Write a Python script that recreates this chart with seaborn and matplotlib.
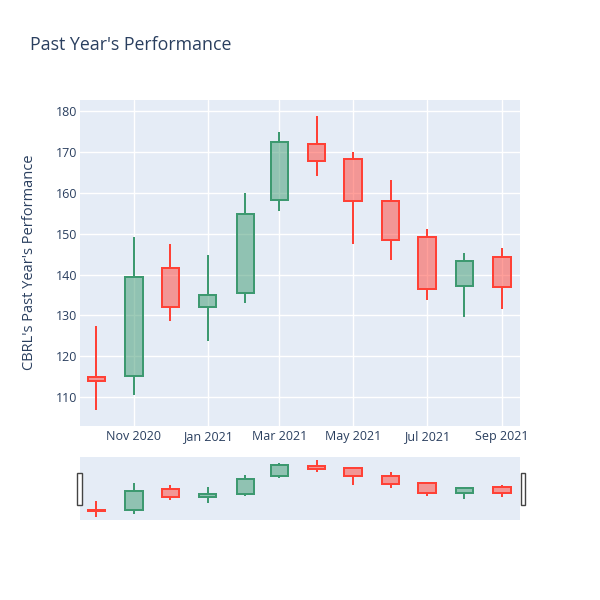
import matplotlib
matplotlib.use("Agg")
import matplotlib.pyplot as plt
import matplotlib.dates as mdates
import matplotlib.patches as mpatches
import seaborn as sns
import pandas as pd

# ---- data ----
dates = ["2020-10-01", "2020-11-01", "2020-12-01", "2021-01-01", "2021-02-01", "2021-03-01",
         "2021-04-01", "2021-05-01", "2021-06-01", "2021-07-01", "2021-08-01", "2021-09-01"]
opens = [114.9, 115.2, 141.7, 132.0, 135.4, 158.2, 171.9, 168.4, 158.1, 149.2, 137.3, 144.2]
highs = [127.3, 149.1, 147.5, 144.9, 160.1, 174.9, 178.8, 170.0, 163.3, 151.1, 145.2, 146.6]
lows = [106.9, 110.5, 128.5, 123.7, 133.1, 155.6, 164.1, 147.5, 143.5, 133.7, 129.7, 131.6]
closes = [113.9, 139.4, 132.0, 135.1, 154.8, 172.6, 167.8, 158.0, 148.6, 136.4, 143.3, 136.9]
x_ticks = ["2020-11-01", "2021-01-01", "2021-03-01", "2021-05-01", "2021-07-01", "2021-09-01"]
y_ticks = [110, 120, 130, 140, 150, 160, 170, 180]

df = pd.DataFrame({"date": pd.to_datetime(dates), "open": opens, "high": highs,
                   "low": lows, "close": closes})

INC = "#3D9970"
DEC = "#FF4136"
BG = "#E5ECF6"
TXT = "#2a3f5f"

sns.set_theme(style="darkgrid", rc={"axes.facecolor": BG, "grid.color": "white",
                                    "figure.facecolor": "white"})
plt.rcParams["font.family"] = ["Open Sans", "DejaVu Sans"]

fig = plt.figure(figsize=(6, 6), dpi=100)
ax = fig.add_axes([80 / 600, 1 - 425.5 / 600, 440 / 600, 325.5 / 600])
axs = fig.add_axes([80 / 600, 1 - 519.7 / 600, 440 / 600, 62.7 / 600])

LW = 1.44
WIDTH = 14.3  # days


def draw(axis, lw):
    for _, r in df.iterrows():
        col = INC if r["close"] >= r["open"] else DEC
        lo_b = min(r["open"], r["close"])
        hi_b = max(r["open"], r["close"])
        axis.vlines(r["date"], r["low"], lo_b, color=col, lw=lw, zorder=3)
        axis.vlines(r["date"], hi_b, r["high"], color=col, lw=lw, zorder=3)
        axis.bar(r["date"], hi_b - lo_b, bottom=lo_b, width=WIDTH,
                 facecolor=matplotlib.colors.to_rgba(col, 0.5), edgecolor=col,
                 linewidth=lw, zorder=3)


draw(ax, LW)
draw(axs, LW)

x0 = pd.Timestamp("2020-11-01") - pd.Timedelta(days=44.6)
x1 = pd.Timestamp("2021-09-01") + pd.Timedelta(days=14.9)
for a in (ax, axs):
    a.set_xlim(x0, x1)
    a.set_ylim(103.0, 182.8)
    for s in a.spines.values():
        s.set_visible(False)

ax.set_xticks(pd.to_datetime(x_ticks))
ax.xaxis.set_major_formatter(mdates.DateFormatter("%b %Y"))
ax.set_yticks(y_ticks)
ax.grid(True, color="white", lw=1)
ax.tick_params(axis="both", length=0, labelsize=9, colors=TXT)
ax.tick_params(axis="y", pad=2)
ax.tick_params(axis="x", pad=3)
ax.set_xlabel("")
ax.set_ylabel("CBRL's Past Year's Performance", fontsize=10.5, color=TXT)
ax.yaxis.set_label_coords(-0.097, 0.5)

axs.set_xticks([])
axs.set_yticks([])
axs.grid(False)

for xa in (-2.7 / 440, 440.5 / 440):
    axs.add_patch(mpatches.Rectangle((xa, 0.23), 4.2 / 440, 0.51, transform=axs.transAxes,
                                     facecolor="white", edgecolor="#444444", lw=1,
                                     clip_on=False, zorder=5))

fig.text(30 / 600, 1 - 44.5 / 600, "Past Year's Performance", fontsize=12.75, color=TXT,
         va="center", ha="left")

fig.savefig("out.png", dpi=100)
